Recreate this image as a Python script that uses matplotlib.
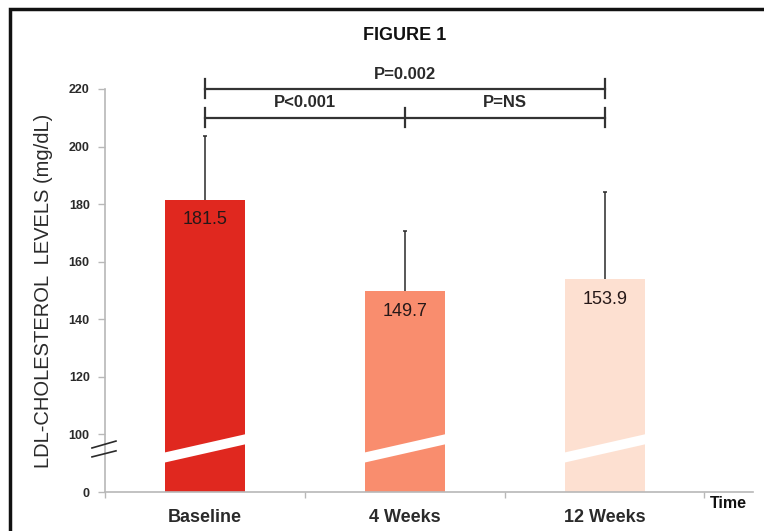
"""LDL-cholesterol levels at baseline, 4 and 12 weeks (broken y axis)."""
import matplotlib.pyplot as plt
from matplotlib.patches import Polygon, Rectangle

# Data
CATEGORIES = ["Baseline", "4 Weeks", "12 Weeks"]
MEANS = [181.5, 149.7, 153.9]
UPPER_ERR = [22.3, 21.1, 30.2]
BAR_COLORS = ["#e0281f", "#f98d6e", "#fde0d1"]
Y_TICK_VALUES = [0, 100, 120, 140, 160, 180, 200, 220]

# axis break: values >= 100 are shifted down so that 100 sits one step above 0
BREAK_OFFSET = 80
BAR_WIDTH = 0.4

SANS = ["Liberation Sans", "DejaVu Sans"]
AXIS_GREY = "#b8b8b8"
INK = "#2a2a2a"


def to_pos(value):
    return 0 if value == 0 else value - BREAK_OFFSET


fig = plt.figure(figsize=(7.64, 5.31), dpi=100)
ax = fig.add_axes([0.1374, 0.0734, 0.848, 0.759])

x = list(range(len(CATEGORIES)))
heights = [to_pos(v) for v in MEANS]
ax.bar(x, heights, width=BAR_WIDTH, color=BAR_COLORS, zorder=2)
_, caps, _ = ax.errorbar(x, heights, yerr=[[0] * len(x), UPPER_ERR], fmt="none",
                         ecolor=INK, elinewidth=1.1, capsize=1.5,
                         capthick=1.1, zorder=3)
caps[0].set_visible(False)  # no cap on the zero-length lower side

# white diagonal stripe across the lower part of each bar (axis break)
for xi in x:
    left, right = xi - BAR_WIDTH / 2 - 0.01, xi + BAR_WIDTH / 2 + 0.01
    stripe = Polygon([(left, 10.1), (right, 16.7), (right, 20.2), (left, 13.6)],
                     closed=True, facecolor="white", edgecolor="none", zorder=4)
    ax.add_patch(stripe)

# value labels inside bars
for xi, h, v in zip(x, heights, MEANS):
    ax.annotate(f"{v:.1f}", (xi, h), xytext=(0, -14.5), textcoords="offset points",
                ha="center", va="center", fontsize=13, family=SANS,
                color="#261818", zorder=5)

ax.set_xlim(-0.5, 2.74)
ax.set_ylim(0, 140)

ax.set_yticks([to_pos(v) for v in Y_TICK_VALUES])
ax.set_yticklabels([str(v) for v in Y_TICK_VALUES], family=SANS,
                   fontweight="bold", fontsize=9, color=INK)
ax.tick_params(axis="y", length=5, width=1, color=AXIS_GREY, pad=6)

ax.set_xticks(x)
ax.set_xticklabels(CATEGORIES, family=SANS, fontweight="bold",
                   fontsize=13, color=INK)
ax.tick_params(axis="x", which="major", length=0, pad=12)
ax.set_xticks([-0.5, 0.5, 1.5, 2.495], minor=True)
ax.tick_params(axis="x", which="minor", length=4, width=1, color=AXIS_GREY)

for side in ("top", "right"):
    ax.spines[side].set_visible(False)
for side in ("left", "bottom"):
    ax.spines[side].set_color(AXIS_GREY)
    ax.spines[side].set_linewidth(1.2)

ax.set_ylabel("LDL-CHOLESTEROL  LEVELS (mg/dL)", family=SANS,
              fontsize=14.5, color=INK)
ax.yaxis.set_label_coords(-0.080, 0.5)

# break marks on the y axis
for y0, y1 in [(15.3, 17.7), (12.2, 14.3)]:
    ax.plot([-0.565, -0.445], [y0, y1], color=INK, lw=1.2,
            clip_on=False, zorder=6)

# significance brackets
bracket_kw = dict(color="#333333", lw=1.6, clip_on=False, zorder=6)
ax.plot([0, 2], [140, 140], **bracket_kw)
for xb in (0, 2):
    ax.plot([xb, xb], [136.7, 143.3], **bracket_kw)
ax.plot([0, 2], [130, 130], **bracket_kw)
for xb in (0, 1, 2):
    ax.plot([xb, xb], [126.7, 133.3], **bracket_kw)

p_kw = dict(ha="center", va="center", family=SANS, fontweight="bold",
            fontsize=12, color=INK, clip_on=False)
ax.text(1, 145, "P=0.002", **p_kw)
ax.text(0.5, 135.3, "P<0.001", **p_kw)
ax.text(1.5, 135.3, "P=NS", **p_kw)

fig.text(0.529, 0.934, "FIGURE 1", ha="center", va="center", family=SANS,
         fontweight="bold", fontsize=13, color="#111111")
fig.text(0.954, 0.051, "Time", ha="center", va="center", family=SANS,
         fontweight="bold", fontsize=11.5, color="#111111")

# frame around the figure (cropped on the right and bottom)
fig.patches.append(Rectangle((9.5 / 764, -0.05), 1.2, 1.05 - 8.5 / 531,
                             transform=fig.transFigure, fill=False,
                             edgecolor="#111111", linewidth=2.5))

fig.savefig("out.png", dpi=100)
